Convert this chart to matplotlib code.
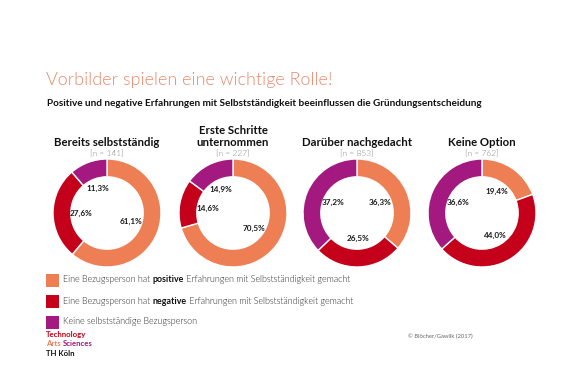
import matplotlib
matplotlib.use("Agg")
from matplotlib import pyplot as plt
from matplotlib.patches import Rectangle
import numpy as np

plt.rcParams['font.family'] = ['Lato', 'DejaVu Sans']

categories = ["Bereits selbstständig", "Erste Schritte\nunternommen", "Darüber nachgedacht", "Keine Option"]
n_values = [141, 227, 853, 762]
positive = [61.1, 70.5, 36.3, 19.4]
negative = [27.6, 14.6, 26.5, 44.0]
no_person = [11.3, 14.9, 37.2, 36.6]

legend_parts = [
    ["Eine Bezugsperson hat ", "positive", " Erfahrungen mit Selbstständigkeit gemacht"],
    ["Eine Bezugsperson hat ", "negative", " Erfahrungen mit Selbstständigkeit gemacht"],
    ["Keine selbstständige Bezugsperson"],
]

colors = ["#EE7F55", "#C4001A", "#A3197F"]

W, H = 588, 392
fig = plt.figure(figsize=(W / 100, H / 100), dpi=100)

def fx(px):
    return px / W

def fy(py):
    return 1 - py / H

fig.text(fx(46), fy(80), "Vorbilder spielen eine wichtige Rolle!", fontsize=13,
         color="#E98A6C", fontweight=300, va="center", ha="left")
fig.text(fx(47), fy(103), "Positive und negative Erfahrungen mit Selbstständigkeit beeinflussen die Gründungsentscheidung",
         fontsize=7.2, fontweight="bold", color="#111111", va="center", ha="left")

centers = [107, 233, 357, 482]
cy = 213
r = 54
for i, cat in enumerate(categories):
    cx = centers[i]
    ax = fig.add_axes([fx(cx - r), fy(cy + r), 2 * r / W, 2 * r / H])
    vals = [positive[i], negative[i], no_person[i]]
    ax.pie(vals, colors=colors, startangle=90, counterclock=False, radius=1,
           wedgeprops=dict(width=0.33, edgecolor="white", linewidth=1.0))
    ax.set_xlim(-1, 1)
    ax.set_ylim(-1, 1)
    ax.set_aspect("equal")
    ax.axis("off")
    cum = 0
    for v in vals:
        mid = (cum + v / 2) / 100 * 2 * np.pi
        cum += v
        x = 0.48 * np.sin(mid)
        y = 0.48 * np.cos(mid)
        ax.text(x, y, f"{v:.1f}%".replace(".", ","), ha="center", va="center",
                fontsize=5.9, fontweight="bold", color="#1a1a1a")
    # title
    lines = cat.split("\n")
    if len(lines) == 1:
        fig.text(fx(cx), fy(143), cat, ha="center", va="center", fontsize=8.2,
                 fontweight="bold", color="#111111")
    else:
        fig.text(fx(cx), fy(130), lines[0], ha="center", va="center", fontsize=8.2,
                 fontweight="bold", color="#111111")
        fig.text(fx(cx), fy(143), lines[1], ha="center", va="center", fontsize=8.2,
                 fontweight="bold", color="#111111")
    fig.text(fx(cx), fy(153.5), f"[n = {n_values[i]}]", ha="center", va="center",
             fontsize=6, fontweight=300, color="#888888")

# legend
renderer = fig.canvas.get_renderer()
legend_y = [280, 301, 322]
for i, parts in enumerate(legend_parts):
    y = legend_y[i]
    fig.add_artist(Rectangle((fx(46), fy(y + 6.5)), 13 / W, 13 / H, transform=fig.transFigure,
                             facecolor=colors[i], edgecolor="none"))
    x = 63
    for j, part in enumerate(parts):
        bold = (j == 1)
        t = fig.text(fx(x), fy(y), part, ha="left", va="center", fontsize=6.4,
                     fontweight="bold" if bold else 300,
                     color="#111111" if bold else "#2a2a2a")
        bb = t.get_window_extent(renderer=renderer)
        x += bb.width

# logo
fig.text(fx(46), fy(335), "Technology", fontsize=5.6, fontweight="bold", color="#C4001A",
         va="center", ha="left")
t = fig.text(fx(46), fy(344), "Arts ", fontsize=5.6, fontweight="bold", color="#EE7F55",
             va="center", ha="left")
w = t.get_window_extent(renderer=renderer).width
fig.text(fx(46 + w), fy(344), "Sciences", fontsize=5.6, fontweight="bold", color="#A3197F",
         va="center", ha="left")
fig.text(fx(46), fy(353), "TH Köln", fontsize=5.6, fontweight="bold", color="#111111",
         va="center", ha="left")

fig.text(fx(473), fy(336), "© Blöcher/Gawlik (2017)", fontsize=4.2, color="#666666",
         va="center", ha="right")

fig.savefig("out.png", dpi=100, facecolor="white")
